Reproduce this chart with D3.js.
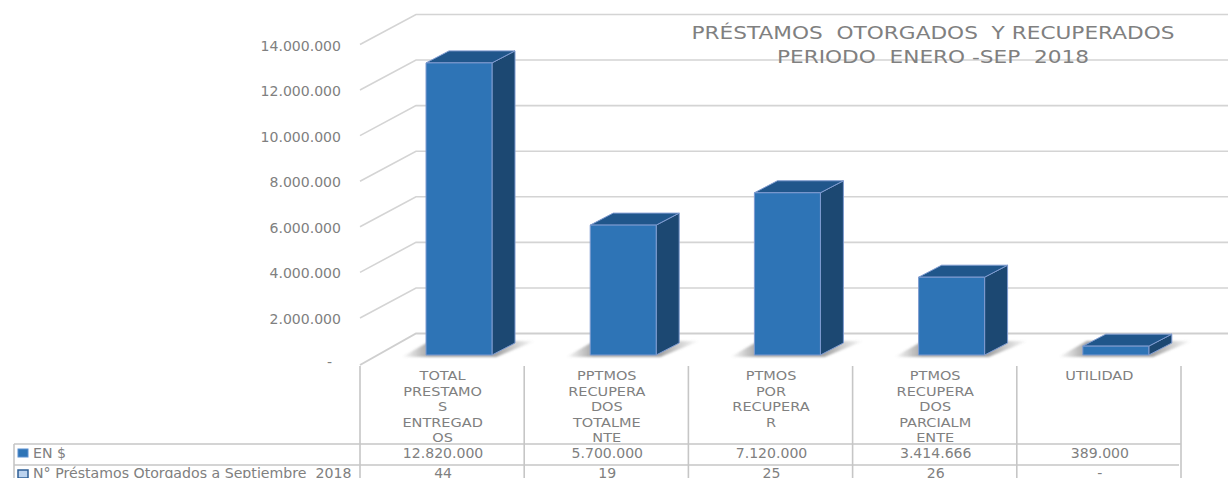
<!DOCTYPE html>
<html><head><meta charset="utf-8">
<script src="https://cdn.jsdelivr.net/npm/d3@7/dist/d3.min.js"></script>
<style>html,body{margin:0;padding:0;background:#fff;overflow:hidden}svg{display:block}text{font-family:"DejaVu Sans",sans-serif;fill:#808080;white-space:pre}</style>
</head><body><svg id="c" width="1228" height="478"></svg>
<script>
const categories=[["TOTAL","PRESTAMO","S","ENTREGAD","OS"],["PPTMOS","RECUPERA","DOS","TOTALME","NTE"],["PTMOS","POR","RECUPERA","R"],["PTMOS","RECUPERA","DOS","PARCIALM","ENTE"],["UTILIDAD"]];
const enPesos=[12820000,5700000,7120000,3414666,389000];
const enPesosLabels=["12.820.000","5.700.000","7.120.000","3.414.666","389.000"];
const prestamos=["44","19","25","26","-"];
const yTicks=[0,2e6,4e6,6e6,8e6,10e6,12e6,14e6];
const yTickLabels=["-","2.000.000","4.000.000","6.000.000","8.000.000","10.000.000","12.000.000","14.000.000"];
const rowNames=["EN $","N° Préstamos Otorgados a Septiembre  2018"];
const titleLines=["PRÉSTAMOS  OTORGADOS  Y RECUPERADOS","PERIODO  ENERO -SEP  2018"];

const svg=d3.select("#c");
const y=d3.scaleLinear().domain([0,14e6]).range([363.5,44.5]);
const x=d3.scaleBand().domain(d3.range(5)).range([360,1181]);
const wall={dx:56,dy:-30};
const gray="#d4d4d4";
const defs=svg.append("defs");
defs.append("filter").attr("id","soft").append("feGaussianBlur").attr("stdDeviation",0.9);
const sg=defs.append("linearGradient").attr("id","shadow").attr("x1",0).attr("x2",1).attr("y1",0).attr("y2",0);
sg.append("stop").attr("offset",0).attr("stop-color","#777").attr("stop-opacity",0);
sg.append("stop").attr("offset",.2).attr("stop-color","#777").attr("stop-opacity",.65);
sg.append("stop").attr("offset",.72).attr("stop-color","#777").attr("stop-opacity",.65);
sg.append("stop").attr("offset",1).attr("stop-color","#777").attr("stop-opacity",0);

// stretched text: the reference's glyphs are wider than any installed face
function label(parent,s,px,py,size,sx,anchor){
  return parent.append("text").attr("transform",`translate(${px},${py}) scale(${sx},1)`)
    .attr("text-anchor",anchor||"middle").attr("font-size",size).text(s);
}

// walls
const g=svg.append("g");
yTicks.forEach((t,i)=>{
  const yy=y(t);
  g.append("path").attr("d",`M360,${yy+(t===0?1.5:0)}L${360+wall.dx},${yy+wall.dy}L1228,${yy+wall.dy}`)
    .attr("fill","none").attr("stroke",t===0?"#cfcfcf":gray).attr("stroke-width",t===0?2:1.6);
  label(g,yTickLabels[i],t===0?332:341,yy+(t===0?3.5:6),13.4,1.05,"end");
});

// bars
const barW=66, barOff=66, dep={dx:23,dy:-12}, baseY=y(0)-8.5;
const h=v=>y(0)-y(v);
enPesos.forEach((v,i)=>{
  const x0=x(i)+barOff, top=baseY-h(v), x1=x0+barW;
  g.append("path").attr("d",`M${x0-24},${baseY+2}L${x0+4},${baseY-14}L${x1+dep.dx+20},${baseY-14}L${x1+4},${baseY+2}Z`).attr("fill","url(#shadow)").attr("filter","url(#soft)");
  const poly=(d,f)=>g.append("path").attr("d",d).attr("fill",f).attr("stroke","#7f9bd0").attr("stroke-width",1).attr("stroke-linejoin","round");
  poly(`M${x1},${top}L${x1+dep.dx},${top+dep.dy}L${x1+dep.dx},${baseY+dep.dy}L${x1},${baseY}Z`,"#1c4872");
  poly(`M${x0},${top}L${x0+dep.dx},${top+dep.dy}L${x1+dep.dx},${top+dep.dy}L${x1},${top}Z`,"#20568b");
  poly(`M${x0},${top}H${x1}V${baseY}H${x0}Z`,"#2e74b6");
});

// title
titleLines.forEach((t,i)=>label(svg,t,933,i?63:39,17.6,1.23));

// table
const rowY=[444,465];
const tb=svg.append("g");
const line=(a,b,c,d)=>tb.append("line").attr("x1",a).attr("y1",b).attr("x2",c).attr("y2",d).attr("stroke","#c6c6c6").attr("stroke-width",1.6);
d3.range(6).forEach(i=>{const lx=x.range()[0]+i*x.step();line(lx,366,lx,478);});
line(14,rowY[0],1181,rowY[0]); line(14,rowY[1],1179,rowY[1]); line(14,rowY[0],14,478);
categories.forEach((c,i)=>{
  const cx=x(i)+x.bandwidth()/2+1;
  c.forEach((s,j)=>label(tb,s,cx-0.5,380+j*15.6,12.4,1.17));
  label(tb,enPesosLabels[i],cx,457.5,13.4,1.05);
  label(tb,prestamos[i],cx,478,13.4,1.05);
});
rowNames.forEach((n,i)=>{
  const ty=[457.5,478][i];
  tb.append("rect").attr("x",18).attr("y",[449,470][i]).attr("width",10).attr("height",8).attr("fill",i?"#bcd3ee":"#2e74b6").attr("stroke",i?"#2e5f96":"#5b8fd0").attr("stroke-width",i?1.5:1);
  label(tb,n,33,ty,13.4,1.057,"start");
});
</script></body></html>
